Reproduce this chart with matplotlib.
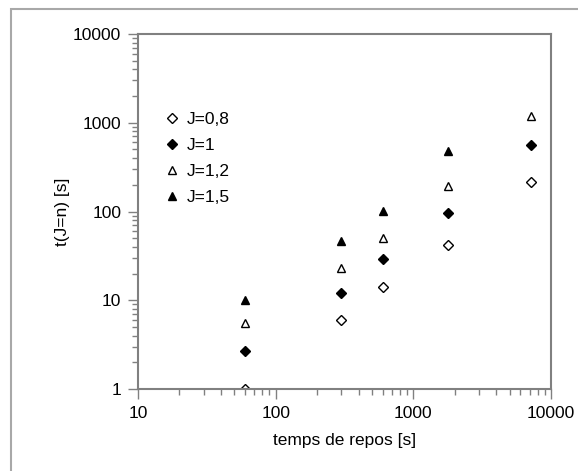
"""
Log-log scatter: t(J=n) vs temps de repos
"""

import matplotlib.pyplot as plt
from matplotlib.patches import Rectangle
from matplotlib.ticker import LogLocator, NullFormatter, FixedLocator

plt.rcParams['font.family'] = ['Liberation Sans', 'DejaVu Sans']

# data
repos = [60, 300, 600, 1800, 7200]
t_j08 = [1.0, 6.0, 14, 42, 217]
t_j10 = [2.7, 12, 29, 97, 561]
t_j12 = [5.5, 23, 50, 194, 1190]
t_j15 = [10, 46, 101, 481]
labels = ['J=0,8', 'J=1', 'J=1,2', 'J=1,5']

GRAY = '#808080'
FS = 12.5

fig = plt.figure(figsize=(5.78, 4.71), dpi=100)
ax = fig.add_axes([138 / 578, 82 / 471, 413 / 578, 355 / 471])

# outer border (only left/top visible in reference)
fig.patches.append(Rectangle((11 / 578, -0.05), 1.2, (462 / 471) + 0.05,
                             transform=fig.transFigure, fill=False,
                             edgecolor='#A8A8A8', linewidth=1.5))

ms = 6
ax.plot(repos, t_j08, linestyle='none', marker='D', ms=ms - 1,
        mfc='white', mec='black', mew=1.0, label=labels[0])
ax.plot(repos, t_j10, linestyle='none', marker='D', ms=ms - 1,
        mfc='black', mec='black', mew=1.0, label=labels[1])
ax.plot(repos, t_j12, linestyle='none', marker='^', ms=ms,
        mfc='white', mec='black', mew=1.0, label=labels[2])
ax.plot(repos[:4], t_j15, linestyle='none', marker='^', ms=ms,
        mfc='black', mec='black', mew=1.0, label=labels[3])

ax.set_xscale('log')
ax.set_yscale('log')
ax.set_xlim(10, 10000)
ax.set_ylim(1, 10000)

ax.xaxis.set_major_locator(FixedLocator([10, 100, 1000, 10000]))
ax.yaxis.set_major_locator(FixedLocator([1, 10, 100, 1000, 10000]))
ax.set_xticklabels(['10', '100', '1000', '10000'])
ax.set_yticklabels(['1', '10', '100', '1000', '10000'])
ax.xaxis.set_minor_locator(LogLocator(base=10, subs=range(2, 10)))
ax.yaxis.set_minor_locator(LogLocator(base=10, subs=range(2, 10)))
ax.xaxis.set_minor_formatter(NullFormatter())
ax.yaxis.set_minor_formatter(NullFormatter())

ax.tick_params(which='major', direction='out', length=7, width=1,
               color=GRAY, labelsize=FS, pad=5)
ax.tick_params(which='minor', direction='out', length=4, width=1,
               color=GRAY)

for sp in ax.spines.values():
    sp.set_color(GRAY)
    sp.set_linewidth(1.5)

ax.set_xlabel('temps de repos [s]', fontsize=FS, labelpad=9)
ax.set_ylabel('t(J=n) [s]', fontsize=FS, labelpad=2)

ax.legend(loc='upper left', bbox_to_anchor=(0.05, 0.80), frameon=False,
          fontsize=FS, handlelength=0.7, handletextpad=0.5,
          labelspacing=0.62, borderaxespad=0)

plt.savefig('out.png', dpi=100, facecolor='white')
plt.close()
